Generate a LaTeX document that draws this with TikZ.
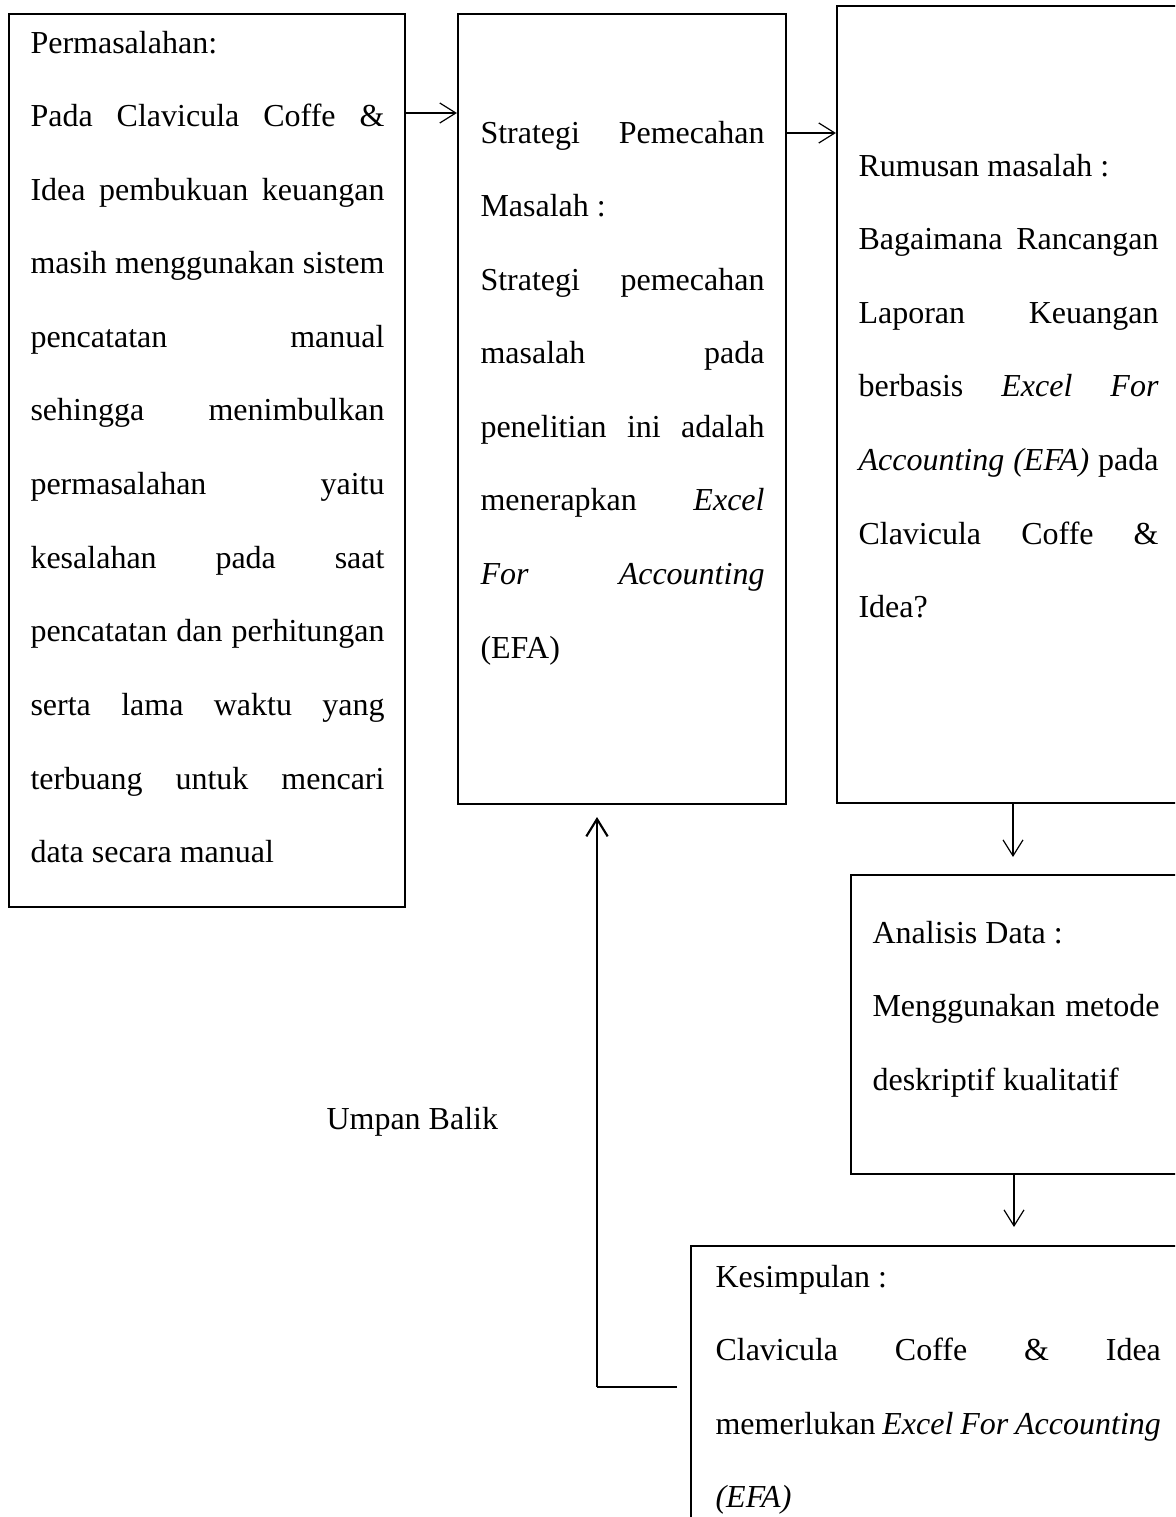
\documentclass[tikz,border=0pt]{standalone}
\usepackage{fontspec}
\setmainfont{Liberation Serif}
\usetikzlibrary{arrows.meta,fit}
\newlength{\jw}
\newcommand{\jline}[1]{{\spaceskip=0pt\xspaceskip=0pt\makebox[\jw][s]{#1}}}
\begin{document}
\begin{tikzpicture}[x=0.375pt,y=-0.375pt,
  box/.style={draw, line width=0.8pt, inner sep=0pt},
  txt/.style={anchor=base west, inner sep=0pt, font=\fontsize{12pt}{27.6pt}\selectfont},
  arr/.style={-{Straight Barb[length=6pt,width=7.5pt]}, line width=0.45pt},
  fbarr/.style={-{Straight Barb[length=6.5pt,width=8pt]}, line width=0.8pt},
  thin/.style={line width=0.5pt}]
\useasboundingbox (0,0) rectangle (1175,1517);
\clip (0,0) rectangle (1175,1517);
\fill[white] (0,0) rectangle (1175,1517);
% boxes
\node[box, fit={(9,14) (405,907)}] (b1) {};
\node[box, fit={(458,14) (786,804)}] (b2) {};
\node[box, fit={(837,6) (1210,803)}] (b3) {};
\node[box, fit={(851,875) (1210,1174)}] (b4) {};
\node[box, fit={(691,1246) (1210,1560)}] (b5) {};
% texts
\node[txt, text width=132.75pt] (t1) at (30,53) {\setlength{\jw}{132.75pt}\spaceskip=0pt\xspaceskip=0pt Permasalahan:\\
\jline{Pada Clavicula Coffe \&}\\
\jline{Idea pembukuan keuangan}\\
\jline{masih menggunakan sistem}\\
\jline{pencatatan manual}\\
\jline{sehingga menimbulkan}\\
\jline{permasalahan yaitu}\\
\jline{kesalahan pada saat}\\
\jline{pencatatan dan perhitungan}\\
\jline{serta lama waktu yang}\\
\jline{terbuang untuk mencari}\\
data secara manual};
\node[txt, text width=106.5pt] (t2) at (480,143) {\setlength{\jw}{106.5pt}\spaceskip=0pt\xspaceskip=0pt\jline{Strategi Pemecahan}\\
Masalah :\\
\jline{Strategi pemecahan}\\
\jline{masalah pada}\\
\jline{penelitian ini adalah}\\
\jline{menerapkan \textit{Excel}}\\
\jline{\textit{For Accounting}}\\
(EFA)};
\node[txt, text width=112.5pt] (t3) at (858,176) {\setlength{\jw}{112.5pt}\spaceskip=0pt\xspaceskip=0pt Rumusan masalah :\\
\jline{Bagaimana Rancangan}\\
\jline{Laporan Keuangan}\\
\jline{berbasis \textit{Excel For}}\\
\jline{\textit{Accounting (EFA)} pada}\\
\jline{Clavicula Coffe \&}\\
Idea?};
\node[txt, text width=107.6pt] (t4) at (872,943) {\setlength{\jw}{107.6pt}\spaceskip=0pt\xspaceskip=0pt Analisis Data :\\
\jline{Menggunakan metode}\\
deskriptif kualitatif};
\node[txt, text width=167pt] (t5) at (715,1287) {\setlength{\jw}{167pt}\spaceskip=0pt\xspaceskip=0pt Kesimpulan :\\
\jline{Clavicula Coffe \& Idea}\\
\jline{memerlukan \textit{Excel For Accounting}}\\
\textit{(EFA)}};
\node[txt] (ub) at (326,1129) {Umpan Balik};
% connectors
\coordinate (a1) at (0,113);
\coordinate (a2) at (0,133);
\draw[arr] (a1 -| b1.east) -- (a1 -| b2.west);
\draw[arr] (a2 -| b2.east) -- (a2 -| b3.west);
\coordinate (e3) at (1013,857);
\draw[arr] (e3 |- b3.south) -- (e3);
\coordinate (e4) at (1014,1227);
\draw[arr] (e4 |- b4.south) -- (e4);
\coordinate (fbs) at (677,1387);
\coordinate (fbc) at (597,1387);
\coordinate (fbe) at (597,817);
\draw[thin] (fbs) -- (fbc);
\draw[fbarr] (fbc) -- (fbe);
\end{tikzpicture}
\end{document}
